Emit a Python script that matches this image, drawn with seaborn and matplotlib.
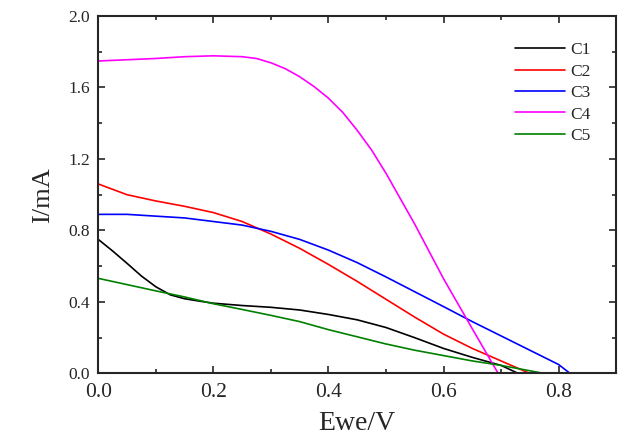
import matplotlib
matplotlib.use("Agg")
import matplotlib.pyplot as plt
import pandas as pd
import seaborn as sns
from matplotlib.ticker import MultipleLocator

# values (Ewe in V, I in mA)
c1_x = [0.0, 0.025, 0.05, 0.075, 0.1, 0.125, 0.15, 0.175, 0.2, 0.25, 0.3, 0.35, 0.4, 0.45, 0.5, 0.55, 0.6, 0.65, 0.7, 0.73]
c1_y = [0.75, 0.685, 0.616, 0.545, 0.485, 0.44, 0.418, 0.405, 0.393, 0.38, 0.37, 0.355, 0.33, 0.30, 0.257, 0.20, 0.14, 0.09, 0.045, 0.0]

c2_x = [0.0, 0.05, 0.1, 0.15, 0.2, 0.25, 0.3, 0.35, 0.4, 0.45, 0.5, 0.55, 0.6, 0.65, 0.7, 0.75]
c2_y = [1.06, 1.0, 0.965, 0.935, 0.9, 0.85, 0.78, 0.70, 0.61, 0.515, 0.415, 0.315, 0.22, 0.14, 0.07, 0.0]

c3_x = [0.0, 0.05, 0.1, 0.15, 0.2, 0.25, 0.3, 0.35, 0.4, 0.45, 0.5, 0.55, 0.6, 0.65, 0.7, 0.75, 0.8, 0.82]
c3_y = [0.89, 0.89, 0.88, 0.87, 0.85, 0.83, 0.795, 0.75, 0.69, 0.62, 0.54, 0.457, 0.374, 0.29, 0.21, 0.13, 0.05, 0.0]

c4_x = [0.0, 0.05, 0.1, 0.15, 0.2, 0.25, 0.275, 0.3, 0.325, 0.35, 0.375, 0.4, 0.425, 0.45, 0.475, 0.5, 0.55, 0.6, 0.65, 0.695]
c4_y = [1.748, 1.755, 1.762, 1.772, 1.777, 1.772, 1.762, 1.738, 1.705, 1.66, 1.605, 1.54, 1.46, 1.36, 1.25, 1.12, 0.835, 0.53, 0.25, 0.0]

c5_x = [0.0, 0.05, 0.1, 0.15, 0.2, 0.25, 0.3, 0.35, 0.4, 0.45, 0.5, 0.55, 0.6, 0.65, 0.7, 0.75, 0.775]
c5_y = [0.532, 0.497, 0.462, 0.428, 0.39, 0.358, 0.325, 0.29, 0.245, 0.205, 0.165, 0.13, 0.10, 0.07, 0.045, 0.015, 0.0]

labels = ["C1", "C2", "C3", "C4", "C5"]
colors = ["black", "red", "blue", "magenta", "green"]

rows = []
for name, xs, ys in zip(labels, [c1_x, c2_x, c3_x, c4_x, c5_x], [c1_y, c2_y, c3_y, c4_y, c5_y]):
    for x, y in zip(xs, ys):
        rows.append({"Ewe": x, "I": y, "curve": name})
df = pd.DataFrame(rows)

sns.set_style("ticks")
plt.rcParams["font.family"] = ["Liberation Serif", "DejaVu Serif"]

fig = plt.figure(figsize=(6.18, 4.43), dpi=100)
ax = fig.add_axes([0.159, 0.157, 0.838, 0.807])

sns.lineplot(data=df, x="Ewe", y="I", hue="curve", palette=dict(zip(labels, colors)),
             sort=False, linewidth=1.2, ax=ax)

ax.set_xlim(0, 0.9)
ax.set_ylim(0, 2.0)
ax.xaxis.set_major_locator(MultipleLocator(0.2))
ax.xaxis.set_minor_locator(MultipleLocator(0.1))
ax.yaxis.set_major_locator(MultipleLocator(0.4))
ax.yaxis.set_minor_locator(MultipleLocator(0.2))
ax.set_xticks([0.0, 0.2, 0.4, 0.6, 0.8])
ax.set_xticklabels(["0.0", "0.2", "0.4", "0.6", "0.8"])
ax.set_yticklabels(["%.1f" % v for v in ax.get_yticks()])

ax.tick_params(which="both", direction="in", top=True, right=True, width=1.2)
ax.tick_params(which="major", length=5)
ax.tick_params(which="minor", length=3)
ax.tick_params(axis="x", labelsize=15.5, pad=7)
ax.tick_params(axis="y", labelsize=12.5, pad=6)
for s in ax.spines.values():
    s.set_linewidth(1.5)

ax.set_xlabel("Ewe/V", fontsize=20, labelpad=6)
ax.set_ylabel("I/mA", fontsize=19, labelpad=10)

ax.legend(frameon=False, loc="upper right", bbox_to_anchor=(0.98, 0.97),
          fontsize=12.5, handlelength=2.9, handletextpad=0.25, labelspacing=0.3)

fig.savefig("out.png", dpi=100)
